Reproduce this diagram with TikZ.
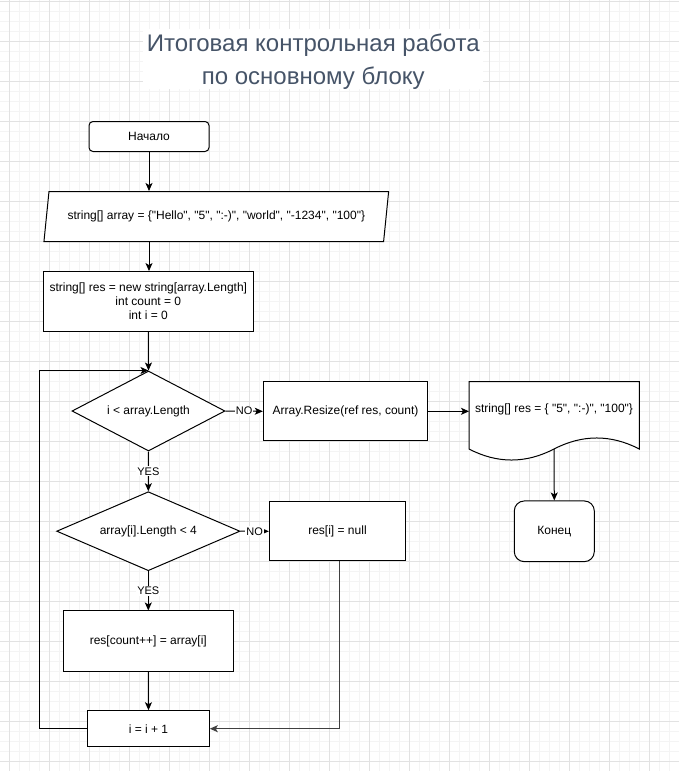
\documentclass[tikz,border=0pt]{standalone}
\usepackage{fontspec}
\setmainfont{Liberation Sans}[Ligatures=TeXOff]
\usetikzlibrary{shapes.geometric,arrows.meta}
\definecolor{gridlight}{RGB}{244,244,244}
\definecolor{griddark}{RGB}{226,226,226}
\definecolor{titleblue}{RGB}{70,84,104}

\begin{document}
\begin{tikzpicture}[x=1pt,y=-1pt,line width=1pt,
    gridminor/.style={draw=gridlight},
    gridmajor/.style={draw=griddark},
    box/.style={draw,rectangle,fill=white,inner sep=0pt,align=center,font=\fontsize{12}{14}\selectfont},
    term/.style={box,rounded corners=4pt},
    cond/.style={draw,diamond,aspect=2,fill=white,inner sep=0pt,font=\fontsize{12}{14}\selectfont},
    lbl/.style={fill=white,inner sep=1pt,font=\fontsize{11}{13}\selectfont},
    arr/.style={-{Stealth[length=8pt,width=7pt,inset=2pt]}},
    head/.style={fill=white,inner sep=0pt,minimum width=340pt,anchor=base,text=titleblue,font=\fontsize{24}{28}\selectfont}]
      \useasboundingbox (0,0) rectangle (679,771);
      \fill[white] (0,0) rectangle (679,771);
      \foreach \x in {9.3,19.3,...,679} \draw[gridminor] (\x,0) -- (\x,771);
      \foreach \y in {1.3,11.3,...,771} \draw[gridminor] (0,\y) -- (679,\y);
      \foreach \x in {9.3,49.3,...,679} \draw[gridmajor] (\x,0) -- (\x,771);
      \foreach \y in {1.3,41.3,...,771} \draw[gridmajor] (0,\y) -- (679,\y);
      \node[head,text height=22.7pt,text depth=8.3pt] (title1) at (313.3,51.7) {Итоговая контрольная работа};
      \node[head,text height=24.7pt,text depth=4.3pt] (title2) at (313.3,84.7) {по основному блоку};
      \node[term,minimum width=120pt,minimum height=30pt] (start) at (149,136.5) {Начало};
      \node[draw,fill=white,trapezium,trapezium left angle=68.2,trapezium right angle=111.8,
        trapezium stretches=true,minimum width=346pt,minimum height=50pt,inner sep=0pt,
        font=\fontsize{12}{14}\selectfont] (input) at (216.3,216.5)
        {string[] array = \{"Hello", "5", ":-)", "world", "-1234", "100"\}};
      \node[box,minimum width=210pt,minimum height=59.5pt] (init) at (148.3,301.3)
        {string[] res = new string[array.Length]\\int count = 0\\int i = 0};
      \node[cond,minimum width=153pt,minimum height=80pt] (check) at (148.5,411) {i < array.Length};
      \node[box,minimum width=164.4pt,minimum height=59.3pt] (resize) at (345.5,411.3) {Array.Resize(ref res, count)};
      \node[cond,minimum width=183.3pt,minimum height=79pt] (len) at (148.3,531.2) {array[i].Length < 4};
      \node[box,minimum width=136.4pt,minimum height=59.3pt] (null) at (337.5,531.3) {res[i] = null};
      \node[box,minimum width=170pt,minimum height=60.7pt] (copy) at (148.3,641.3) {res[count++] = array[i]};
      \node[box,minimum width=121.6pt,minimum height=36pt] (next) at (148.5,728.7) {i = i + 1};
      \node[term,rounded corners=10pt,minimum width=80pt,minimum height=60.7pt] (finish) at (554.3,531.3) {Конец};
      % output document
      \coordinate (D1) at (469,381.7);
      \coordinate (D2) at (639.3,381.7);
      \coordinate (D3) at (639.3,449);
      \coordinate (D4) at (554,449);
      \coordinate (D5) at (469,449);
      \draw[fill=white] (D1) -- (D2) -- (D3) .. controls (610.9,434.3) and (582.4,434.3) .. (D4)
        .. controls (525.7,463.7) and (497.3,463.7) .. (D5) -- cycle;
      \node[font=\fontsize{12}{14}\selectfont,inner sep=0pt] (result) at (554,409) {string[] res = \{ "5", ":-)", "100"\}};
      \coordinate (back) at (39.3,500);
      \draw[arr] (start.south) -- (start.south |- input.north);
      \draw[arr] (start.south |- input.south) -- (start.south |- init.north);
      \draw[arr] (init.south) -- (check.north);
      \draw[arr] (check.east) -- node[lbl] {NO} (resize.west);
      \draw[arr] (resize.east) -- (D1 |- resize.east);
      \draw[arr] (D4) -- (finish.north);
      \draw[arr] (check.south) -- node[lbl] {YES} (len.north);
      \draw[arr] (len.east) -- node[lbl] {NO} (null.west);
      \draw[arr] (len.south) -- node[lbl] {YES} (copy.north);
      \draw[arr] (copy.south) -- (next.north);
      \draw[arr,draw=black!75,line width=1.4pt] ([xshift=1.8pt]null.south) |- (next.east);
      \draw[arr] (next.west) -- (next.west -| back) |- (check.north);
    \end{tikzpicture}
\end{document}
